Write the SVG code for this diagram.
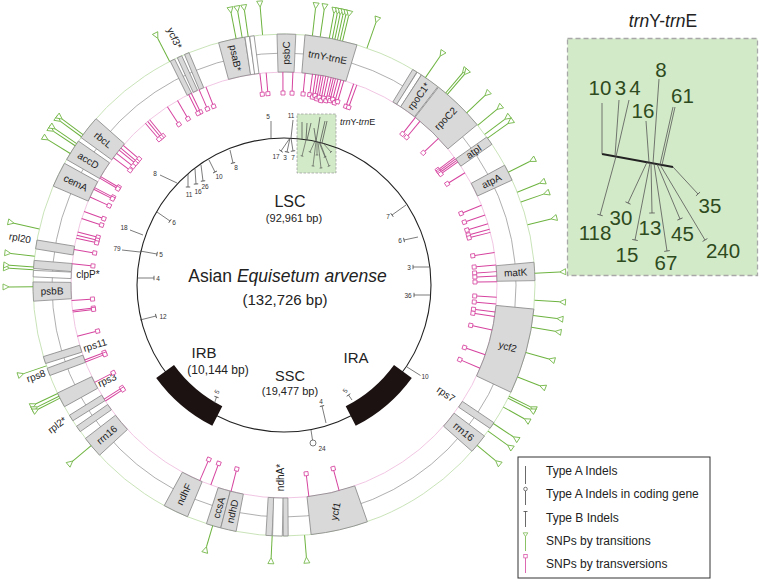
<svg xmlns="http://www.w3.org/2000/svg" width="760" height="582" viewBox="0 0 760 582">
<style>
text{font-family:"Liberation Sans",Arial,sans-serif;fill:#222}
.rg{fill:none;stroke:#c3e0b0;stroke-width:0.9}
.rm{fill:none;stroke:#9a9a9a;stroke-width:0.8}
.rp{fill:none;stroke:#efbfe0;stroke-width:0.9}
.gene{fill:#d9d9d9;stroke:#8c8c8c;stroke-width:0.8}
.gw{fill:#fff;stroke:#8c8c8c;stroke-width:0.8}
.pk{stroke:#d6439f;stroke-width:1;marker-end:url(#sq)}
.gr{stroke:#6db33f;stroke-width:1;marker-end:url(#tri)}
.ia{stroke:#444;stroke-width:0.7;fill:none}
.ib{stroke:#444;stroke-width:0.7;fill:none;marker-end:url(#tb)}
.is{stroke:#444;stroke-width:0.6;fill:none;marker-end:url(#tbs)}
.il2{stroke:#555;stroke-width:0.8;fill:none}
.ib2{stroke:#555;stroke-width:0.8;fill:none;marker-end:url(#tb2)}
.gl{font-size:10px}
.il{font-size:6.5px;fill:#333}
.big{font-size:20.5px;fill:#2e4a20}
.lg{font-size:12px}
.ctr{font-size:15px}
</style>
<defs>
<marker id="sq" markerUnits="userSpaceOnUse" markerWidth="8" markerHeight="8" refX="0" refY="0" orient="auto" overflow="visible"><rect x="0" y="-2" width="4" height="4" fill="#fff" stroke="#d6439f" stroke-width="0.8"/></marker>
<marker id="tri" markerUnits="userSpaceOnUse" markerWidth="8" markerHeight="8" refX="0" refY="0" orient="auto" overflow="visible"><path d="M0,0 L6,-3 L6,3 Z" fill="#fff" stroke="#6db33f" stroke-width="0.8"/></marker>
<marker id="tb" markerUnits="userSpaceOnUse" markerWidth="6" markerHeight="6" refX="0" refY="0" orient="auto" overflow="visible"><path d="M0,-2.2 L0,2.2" stroke="#444" stroke-width="0.8"/></marker>
<marker id="tbs" markerUnits="userSpaceOnUse" markerWidth="6" markerHeight="6" refX="0" refY="0" orient="auto" overflow="visible"><path d="M0,-1.4 L0,1.4" stroke="#444" stroke-width="0.6"/></marker>
<marker id="tb2" markerUnits="userSpaceOnUse" markerWidth="8" markerHeight="8" refX="0" refY="0" orient="auto" overflow="visible"><path d="M0,-2.8 L0,2.8" stroke="#555" stroke-width="0.8"/></marker>
</defs>
<rect width="760" height="582" fill="#fff"/>

<g id="rings">
<circle class="rg" cx="284" cy="285" r="251"/>
<circle class="rm" cx="284" cy="285" r="232"/>
<circle class="rp" cx="284" cy="285" r="213"/>
</g>

<g id="small-inset">
<rect x="297" y="114" width="39" height="59" fill="#d3eac8" stroke="#9a9a9a" stroke-width="0.7" stroke-dasharray="2.5,1.5"/>
<text x="340" y="125" font-size="9"><tspan font-style="italic">trn</tspan>Y-<tspan font-style="italic">trn</tspan>E</text>
</g>

<g id="genome">
<circle cx="284" cy="285" r="147" fill="none" stroke="#222" stroke-width="1.1"/>
<path d="M411.8,377.9 A158,158 0 0 1 355.7,425.8 L345.7,406.2 A136,136 0 0 0 394.0,364.9 Z" fill="#1c1212"/>
<path d="M212.3,425.8 A158,158 0 0 1 156.2,377.9 L174.0,364.9 A136,136 0 0 0 222.3,406.2 Z" fill="#1c1212"/>
<text x="290" y="207" font-size="16" text-anchor="middle">LSC</text>
<text x="294" y="222" font-size="11" text-anchor="middle">(92,961 bp)</text>
<text x="287.5" y="282" font-size="17.5" text-anchor="middle">Asian <tspan font-style="italic">Equisetum arvense</tspan></text>
<text x="285" y="305" class="ctr" text-anchor="middle">(132,726 bp)</text>
<text x="204" y="358" class="ctr" text-anchor="middle">IRB</text>
<text x="218" y="374" font-size="12" text-anchor="middle">(10,144 bp)</text>
<text x="356" y="363" class="ctr" text-anchor="middle">IRA</text>
<text x="290" y="381" font-size="14.5" text-anchor="middle">SSC</text>
<text x="290" y="395" font-size="11" text-anchor="middle">(19,477 bp)</text>
</g>

<g transform="translate(284,285)">
<g id="psbC"><path class="gene" transform="rotate(0.55)" d="M-9.42,-250.82 A251,251 0 0 1 9.42,-250.82 L7.99,-212.85 A213,213 0 0 0 -7.99,-212.85 Z"/><text class="gl" text-anchor="middle" dominant-baseline="central" transform="rotate(0.55) translate(0,-232) rotate(-90)">psbC</text></g>
<g id="trnY-trnE"><path class="gene" transform="rotate(10.85)" d="M-26.46,-249.6 A251,251 0 0 1 26.46,-249.6 L22.45,-211.81 A213,213 0 0 0 -22.45,-211.81 Z"/><text class="gl" text-anchor="middle" dominant-baseline="central" transform="rotate(10.85) translate(0,-232)">trnY-trnE</text></g>
<g id="psaB"><path class="gene" transform="rotate(-12.05)" d="M-13.36,-250.64 A251,251 0 0 1 13.36,-250.64 L11.33,-212.7 A213,213 0 0 0 -11.33,-212.7 Z"/><rect class="gw" x="-2.2" y="-251" width="4.45" height="38" transform="rotate(-8.45)"/><rect class="gw" x="-2.2" y="-251" width="4.45" height="38" transform="rotate(-7.35)"/><text class="gl" text-anchor="middle" dominant-baseline="central" transform="rotate(-12.05) translate(0,-232) rotate(90)">psaB*</text></g>
<g id="ycf3"><rect class="gene" x="-2.4" y="-251" width="4.86" height="38" transform="rotate(-26.4)"/><rect class="gene" x="-2.4" y="-251" width="4.86" height="38" transform="rotate(-24.6)"/><rect class="gene" x="-2.4" y="-251" width="4.86" height="38" transform="rotate(-22.8)"/></g>
<g id="rbcL"><path class="gene" transform="rotate(-51.25)" d="M-12.04,-250.71 A251,251 0 0 1 12.04,-250.71 L10.22,-212.76 A213,213 0 0 0 -10.22,-212.76 Z"/><text class="gl" text-anchor="middle" dominant-baseline="central" transform="rotate(-51.25) translate(0,-232) rotate(90)">rbcL</text></g>
<g id="accD"><path class="gene" transform="rotate(-57.5)" d="M-10.95,-250.76 A251,251 0 0 1 10.95,-250.76 L9.29,-212.8 A213,213 0 0 0 -9.29,-212.8 Z"/><text class="gl" text-anchor="middle" dominant-baseline="central" transform="rotate(-57.5) translate(0,-232) rotate(90)">accD</text></g>
<g id="cemA"><path class="gene" transform="rotate(-63.9)" d="M-12.7,-250.68 A251,251 0 0 1 12.7,-250.68 L10.78,-212.73 A213,213 0 0 0 -10.78,-212.73 Z"/><text class="gl" text-anchor="middle" dominant-baseline="central" transform="rotate(-63.9) translate(0,-232) rotate(90)">cemA</text></g>
<g id="rpl20"><rect class="gene" x="-4.45" y="-251" width="8.91" height="38" transform="rotate(-80.7)"/></g>
<g id="clpP"><rect class="gene" x="-4.05" y="-251" width="8.1" height="38" transform="rotate(-85.3)"/><rect class="gw" x="-3.24" y="-251" width="6.48" height="38" transform="rotate(-87.4)"/></g>
<g id="psbB"><path class="gene" transform="rotate(-91.5)" d="M-9.64,-250.81 A251,251 0 0 1 9.64,-250.81 L8.18,-212.84 A213,213 0 0 0 -8.18,-212.84 Z"/><text class="gl" text-anchor="middle" dominant-baseline="central" transform="rotate(-91.5) translate(0,-232) rotate(90)">psbB</text></g>
<g id="rps11"><rect class="gene" x="-3.65" y="-251" width="7.29" height="38" transform="rotate(-107.4)"/></g>
<g id="rps8"><rect class="gene" x="-3.85" y="-251" width="7.69" height="38" transform="rotate(-110.25)"/></g>
<g id="rps3"><path class="gene" transform="rotate(-117.25)" d="M-7.67,-250.88 A251,251 0 0 1 7.67,-250.88 L6.5,-212.9 A213,213 0 0 0 -6.5,-212.9 Z"/></g>
<g id="rpl2"><rect class="gene" x="-3.24" y="-251" width="6.48" height="38" transform="rotate(-122)"/><rect class="gene" x="-3.24" y="-251" width="6.48" height="38" transform="rotate(-125)"/></g>
<g id="rrn16-L"><path class="gene" transform="rotate(-130.2)" d="M-10.95,-250.76 A251,251 0 0 1 10.95,-250.76 L9.29,-212.8 A213,213 0 0 0 -9.29,-212.8 Z"/><text class="gl" text-anchor="middle" dominant-baseline="central" transform="rotate(-130.2) translate(0,-232) rotate(90)">rrn16</text></g>
<g id="ndhF"><path class="gene" transform="rotate(-154.45)" d="M-12.92,-250.67 A251,251 0 0 1 12.92,-250.67 L10.96,-212.72 A213,213 0 0 0 -10.96,-212.72 Z"/><text class="gl" text-anchor="middle" dominant-baseline="central" transform="rotate(-154.45) translate(0,-232) rotate(90)">ndhF</text></g>
<g id="ccsA"><path class="gene" transform="rotate(-163.7)" d="M-7.45,-250.89 A251,251 0 0 1 7.45,-250.89 L6.32,-212.91 A213,213 0 0 0 -6.32,-212.91 Z"/><text class="gl" text-anchor="middle" dominant-baseline="central" transform="rotate(-163.7) translate(0,-232) rotate(90)">ccsA</text></g>
<g id="ndhD"><path class="gene" transform="rotate(-167.2)" d="M-7.88,-250.88 A251,251 0 0 1 7.88,-250.88 L6.69,-212.9 A213,213 0 0 0 -6.69,-212.9 Z"/><text class="gl" text-anchor="middle" dominant-baseline="central" transform="rotate(-167.2) translate(0,-232) rotate(90)">ndhD</text></g>
<g id="ndhA"><rect class="gene" x="-3.04" y="-251" width="6.07" height="38" transform="rotate(-176.55)"/><rect class="gw" x="-4.86" y="-251" width="9.72" height="38" transform="rotate(-178.5)"/><rect class="gene" x="-2.43" y="-251" width="4.86" height="38" transform="rotate(179.6)"/></g>
<g id="ycf1"><path class="gene" transform="rotate(167.2)" d="M-28.85,-249.34 A251,251 0 0 1 28.85,-249.34 L24.48,-211.59 A213,213 0 0 0 -24.48,-211.59 Z"/><text class="gl" text-anchor="middle" dominant-baseline="central" transform="rotate(167.2) translate(0,-232) rotate(-245.2)">ycf1</text></g>
<g id="rrn16-R"><path class="gene" transform="rotate(129.25)" d="M-9.85,-250.81 A251,251 0 0 1 9.85,-250.81 L8.36,-212.84 A213,213 0 0 0 -8.36,-212.84 Z"/><text class="gl" text-anchor="middle" dominant-baseline="central" transform="rotate(129.25) translate(0,-232) rotate(-90)">rrn16</text></g>
<g id="rps7"><rect class="gene" x="-3.44" y="-251" width="6.88" height="38" transform="rotate(124.05)"/></g>
<g id="ycf2"><path class="gene" transform="rotate(105.4)" d="M-43.15,-247.26 A251,251 0 0 1 43.15,-247.26 L36.62,-209.83 A213,213 0 0 0 -36.62,-209.83 Z"/><text class="gl" text-anchor="middle" dominant-baseline="central" transform="rotate(105.4) translate(0,-232) rotate(-90)">ycf2</text></g>
<g id="matK"><path class="gene" transform="rotate(86.9)" d="M-9.2,-250.83 A251,251 0 0 1 9.2,-250.83 L7.8,-212.86 A213,213 0 0 0 -7.8,-212.86 Z"/><text class="gl" text-anchor="middle" dominant-baseline="central" transform="rotate(86.9) translate(0,-232) rotate(-90)">matK</text></g>
<g id="atpA"><path class="gene" transform="rotate(63.4)" d="M-8.32,-250.86 A251,251 0 0 1 8.32,-250.86 L7.06,-212.88 A213,213 0 0 0 -7.06,-212.88 Z"/><text class="gl" text-anchor="middle" dominant-baseline="central" transform="rotate(63.4) translate(0,-232) rotate(-90)">atpA</text></g>
<g id="atpI"><rect class="gene" x="-4.45" y="-251" width="8.91" height="38" transform="rotate(54.9)"/><text class="gl" text-anchor="middle" dominant-baseline="central" transform="rotate(54.9) translate(0,-232) rotate(-90)">atpI</text></g>
<g id="rpoC2"><path class="gene" transform="rotate(44.15)" d="M-26.89,-249.55 A251,251 0 0 1 26.89,-249.55 L22.82,-211.77 A213,213 0 0 0 -22.82,-211.77 Z"/><text class="gl" text-anchor="middle" dominant-baseline="central" transform="rotate(44.15) translate(0,-232) rotate(-90)">rpoC2</text></g>
<g id="rpoC1"><rect class="gene" x="-2.43" y="-251" width="4.86" height="38" transform="rotate(31.4)"/><rect class="gw" x="-2.43" y="-251" width="4.86" height="38" transform="rotate(32.6)"/><path class="gene" transform="rotate(35.5)" d="M-10.07,-250.8 A251,251 0 0 1 10.07,-250.8 L8.55,-212.83 A213,213 0 0 0 -8.55,-212.83 Z"/><text class="gl" text-anchor="middle" dominant-baseline="central" transform="rotate(35.5) translate(0,-232) rotate(-90)">rpoC1*</text></g>
</g>

<g id="gene-labels">
<text class="gl" text-anchor="middle" dominant-baseline="central" transform="translate(174.5,38) rotate(65)">ycf3*</text>
<text class="gl" text-anchor="middle" dominant-baseline="central" transform="translate(20,238) rotate(10)">rpl20</text>
<text class="gl" text-anchor="middle" dominant-baseline="central" transform="translate(88,274)">clpP*</text>
<text class="gl" text-anchor="middle" dominant-baseline="central" transform="translate(95,345) rotate(-17)">rps11</text>
<text class="gl" text-anchor="middle" dominant-baseline="central" transform="translate(36,376) rotate(-20)">rps8</text>
<text class="gl" text-anchor="middle" dominant-baseline="central" transform="translate(107,380) rotate(-25)">rps3</text>
<text class="gl" text-anchor="middle" dominant-baseline="central" transform="translate(57,425) rotate(-37)">rpl2*</text>
<text class="gl" text-anchor="middle" dominant-baseline="central" transform="translate(280,477.5) rotate(-90)">ndhA*</text>
<text class="gl" text-anchor="middle" dominant-baseline="central" transform="translate(446,394) rotate(35)">rps7</text>
</g>

<g id="connectors" transform="translate(284,285)">
<g id="transversions">
<line class="pk" y1="-213" y2="-194" transform="rotate(-6.5)"/>
<line class="pk" y1="-213" y2="-194" transform="rotate(-4.8)"/>
<line class="pk" y1="-213" y2="-194" transform="rotate(-0.3)"/>
<line class="pk" y1="-213" y2="-194" transform="rotate(2.4)"/>
<line class="pk" y1="-213" y2="-194" transform="rotate(5.7)"/>
<line class="pk" y1="-213" y2="-194" transform="rotate(7.7)"/>
<line class="pk" y1="-213" y2="-192" transform="rotate(8.6)"/>
<line class="pk" y1="-213" y2="-194" transform="rotate(9.3)"/>
<line class="pk" y1="-213" y2="-191" transform="rotate(10.0)"/>
<line class="pk" y1="-213" y2="-193" transform="rotate(10.6)"/>
<line class="pk" y1="-213" y2="-190" transform="rotate(11.3)"/>
<line class="pk" y1="-213" y2="-193" transform="rotate(12.0)"/>
<line class="pk" y1="-213" y2="-191" transform="rotate(12.8)"/>
<line class="pk" y1="-213" y2="-194" transform="rotate(13.4)"/>
<line class="pk" y1="-213" y2="-192" transform="rotate(14.0)"/>
<line class="pk" y1="-213" y2="-194" transform="rotate(14.7)"/>
<line class="pk" y1="-213" y2="-191" transform="rotate(15.5)"/>
<line class="pk" y1="-213" y2="-193" transform="rotate(16.3)"/>
<line class="pk" y1="-213" y2="-191" transform="rotate(19.1)"/>
<line class="pk" y1="-213" y2="-191" transform="rotate(20.0)"/>
<line class="pk" y1="-213" y2="-194" transform="rotate(-21.5)"/>
<line class="pk" y1="-213" y2="-194" transform="rotate(-23.5)"/>
<line class="pk" y1="-213" y2="-194" transform="rotate(-25.8)"/>
<line class="pk" y1="-213" y2="-194" transform="rotate(-26.6)"/>
<line class="pk" y1="-213" y2="-194" transform="rotate(-30)"/>
<line class="pk" y1="-213" y2="-194" transform="rotate(-33.2)"/>
<line class="pk" y1="-213" y2="-194" transform="rotate(-39.1)"/>
<line class="pk" y1="-213" y2="-194" transform="rotate(-39.8)"/>
<line class="pk" y1="-213" y2="-194" transform="rotate(-40.6)"/>
<line class="pk" y1="-213" y2="-194" transform="rotate(-49)"/>
<line class="pk" y1="-213" y2="-194" transform="rotate(-50)"/>
<line class="pk" y1="-213" y2="-194" transform="rotate(-50.7)"/>
<line class="pk" y1="-213" y2="-194" transform="rotate(-51.8)"/>
<line class="pk" y1="-213" y2="-194" transform="rotate(-53.3)"/>
<line class="pk" y1="-213" y2="-194" transform="rotate(-59.4)"/>
<line class="pk" y1="-213" y2="-194" transform="rotate(-59.9)"/>
<line class="pk" y1="-213" y2="-194" transform="rotate(-62.8)"/>
<line class="pk" y1="-213" y2="-194" transform="rotate(-63.3)"/>
<line class="pk" y1="-213" y2="-194" transform="rotate(-65.6)"/>
<line class="pk" y1="-213" y2="-194" transform="rotate(-69.8)"/>
<line class="pk" y1="-213" y2="-194" transform="rotate(-71.8)"/>
<line class="pk" y1="-213" y2="-194" transform="rotate(-75.6)"/>
<line class="pk" y1="-213" y2="-194" transform="rotate(-76.5)"/>
<line class="pk" y1="-213" y2="-194" transform="rotate(-77.3)"/>
<line class="pk" y1="-213" y2="-194" transform="rotate(-80.4)"/>
<line class="pk" y1="-213" y2="-194" transform="rotate(-84.3)"/>
<line class="pk" y1="-213" y2="-194" transform="rotate(-94.2)"/>
<line class="pk" y1="-213" y2="-194" transform="rotate(-96.9)"/>
<line class="pk" y1="-213" y2="-194" transform="rotate(-97.3)"/>
<line class="pk" y1="-213" y2="-194" transform="rotate(-103.9)"/>
<line class="pk" y1="-213" y2="-194" transform="rotate(-110.6)"/>
<line class="pk" y1="-213" y2="-194" transform="rotate(-111.2)"/>
<line class="pk" y1="-213" y2="-194" transform="rotate(-117.2)"/>
<line class="pk" y1="-213" y2="-194" transform="rotate(-122.4)"/>
<line class="pk" y1="-213" y2="-194" transform="rotate(-123)"/>
<line class="pk" y1="-213" y2="-192" transform="rotate(-156.7)"/>
<line class="pk" y1="-213" y2="-192" transform="rotate(-159.9)"/>
<line class="pk" y1="-213" y2="-192" transform="rotate(-165.6)"/>
<line class="pk" y1="-213" y2="-192" transform="rotate(173.3)"/>
<line class="pk" y1="-213" y2="-192" transform="rotate(165)"/>
<line class="pk" y1="-213" y2="-194" transform="rotate(38.1)"/>
<line class="pk" y1="-213" y2="-194" transform="rotate(39.7)"/>
<line class="pk" y1="-213" y2="-194" transform="rotate(46.5)"/>
<line class="pk" y1="-213" y2="-194" transform="rotate(53.2)"/>
<line class="pk" y1="-213" y2="-194" transform="rotate(53.7)"/>
<line class="pk" y1="-213" y2="-194" transform="rotate(54.2)"/>
<line class="pk" y1="-213" y2="-194" transform="rotate(54.7)"/>
<line class="pk" y1="-213" y2="-194" transform="rotate(58.2)"/>
<line class="pk" y1="-213" y2="-193" transform="rotate(68)"/>
<line class="pk" y1="-213" y2="-193" transform="rotate(70.8)"/>
<line class="pk" y1="-213" y2="-193" transform="rotate(73.3)"/>
<line class="pk" y1="-213" y2="-193" transform="rotate(74.8)"/>
<line class="pk" y1="-213" y2="-193" transform="rotate(75.7)"/>
<line class="pk" y1="-213" y2="-193" transform="rotate(81.2)"/>
<line class="pk" y1="-213" y2="-193" transform="rotate(84.6)"/>
<line class="pk" y1="-213" y2="-193" transform="rotate(86.4)"/>
<line class="pk" y1="-213" y2="-193" transform="rotate(87.6)"/>
<line class="pk" y1="-213" y2="-193" transform="rotate(89.1)"/>
<line class="pk" y1="-213" y2="-193" transform="rotate(93.3)"/>
<line class="pk" y1="-213" y2="-193" transform="rotate(95.1)"/>
<line class="pk" y1="-213" y2="-193" transform="rotate(97.3)"/>
<line class="pk" y1="-213" y2="-193" transform="rotate(98.5)"/>
<line class="pk" y1="-213" y2="-193" transform="rotate(102.2)"/>
<line class="pk" y1="-213" y2="-193" transform="rotate(109.1)"/>
<line class="pk" y1="-213" y2="-193" transform="rotate(113)"/>
</g>
<g id="transitions">
<line class="gr" y1="-251" y2="-277" transform="rotate(-27.1)"/>
<line class="gr" y1="-251" y2="-277" transform="rotate(-11.0)"/>
<line class="gr" y1="-251" y2="-277" transform="rotate(-9.6)"/>
<line class="gr" y1="-251" y2="-277" transform="rotate(-8.2)"/>
<line class="gr" y1="-251" y2="-279" transform="rotate(-4.9)"/>
<line class="gr" y1="-251" y2="-278" transform="rotate(6.5)"/>
<line class="gr" y1="-251" y2="-278" transform="rotate(8.3)"/>
<line class="gr" y1="-251" y2="-276" transform="rotate(10.4)"/>
<line class="gr" y1="-251" y2="-276" transform="rotate(11.1)"/>
<line class="gr" y1="-251" y2="-276" transform="rotate(11.7)"/>
<line class="gr" y1="-251" y2="-276" transform="rotate(12.3)"/>
<line class="gr" y1="-251" y2="-276" transform="rotate(12.9)"/>
<line class="gr" y1="-251" y2="-276" transform="rotate(13.5)"/>
<line class="gr" y1="-251" y2="-278" transform="rotate(19.3)"/>
<line class="gr" y1="-251" y2="-277" transform="rotate(34.3)"/>
<line class="gr" y1="-251" y2="-277" transform="rotate(40.1)"/>
<line class="gr" y1="-251" y2="-277" transform="rotate(40.6)"/>
<line class="gr" y1="-251" y2="-276" transform="rotate(46.7)"/>
<line class="gr" y1="-251" y2="-276" transform="rotate(50.5)"/>
<line class="gr" y1="-251" y2="-276" transform="rotate(53.1)"/>
<line class="gr" y1="-251" y2="-276" transform="rotate(54.2)"/>
<line class="gr" y1="-251" y2="-275" transform="rotate(63.3)"/>
<line class="gr" y1="-251" y2="-275" transform="rotate(68.3)"/>
<line class="gr" y1="-251" y2="-275" transform="rotate(70.7)"/>
<line class="gr" y1="-251" y2="-275" transform="rotate(76.1)"/>
<line class="gr" y1="-251" y2="-276" transform="rotate(87.3)"/>
<line class="gr" y1="-251" y2="-276" transform="rotate(93.5)"/>
<line class="gr" y1="-251" y2="-275" transform="rotate(97)"/>
<line class="gr" y1="-251" y2="-275" transform="rotate(99.7)"/>
<line class="gr" y1="-251" y2="-275" transform="rotate(105.6)"/>
<line class="gr" y1="-251" y2="-275" transform="rotate(111.5)"/>
<line class="gr" y1="-251" y2="-275" transform="rotate(116.3)"/>
<line class="gr" y1="-251" y2="-275" transform="rotate(116.8)"/>
<line class="gr" y1="-251" y2="-275" transform="rotate(119.1)"/>
<line class="gr" y1="-251" y2="-275" transform="rotate(123.5)"/>
<line class="gr" y1="-251" y2="-275" transform="rotate(125.6)"/>
<line class="gr" y1="-251" y2="-275" transform="rotate(129.7)"/>
<line class="gr" y1="-251" y2="-273" transform="rotate(175.3)"/>
<line class="gr" y1="-251" y2="-273" transform="rotate(182.7)"/>
<line class="gr" y1="-251" y2="-273" transform="rotate(196.5)"/>
<line class="gr" y1="-251" y2="-275" transform="rotate(-129.8)"/>
<line class="gr" y1="-251" y2="-275" transform="rotate(-115.6)"/>
<line class="gr" y1="-251" y2="-275" transform="rotate(-116.3)"/>
<line class="gr" y1="-251" y2="-275" transform="rotate(-116.8)"/>
<line class="gr" y1="-251" y2="-275" transform="rotate(-108.8)"/>
<line class="gr" y1="-251" y2="-275" transform="rotate(-90.4)"/>
<line class="gr" y1="-251" y2="-275" transform="rotate(-86.5)"/>
<line class="gr" y1="-251" y2="-275" transform="rotate(-85.9)"/>
<line class="gr" y1="-251" y2="-275" transform="rotate(-83.4)"/>
<line class="gr" y1="-251" y2="-277" transform="rotate(-77.1)"/>
<line class="gr" y1="-251" y2="-277" transform="rotate(-58.4)"/>
<line class="gr" y1="-251" y2="-277" transform="rotate(-56.3)"/>
<line class="gr" y1="-251" y2="-277" transform="rotate(-55.7)"/>
<line class="gr" y1="-251" y2="-277" transform="rotate(-53.8)"/>
<line class="gr" y1="-251" y2="-277" transform="rotate(-53.2)"/>
</g>
</g>

<g id="indels">
<line class="ia" x1="271" y1="138" x2="271" y2="121"/><text class="il" x="268" y="119" text-anchor="middle">5</text>
<line class="ia" x1="291" y1="138" x2="293" y2="120"/><text class="il" x="291" y="118" text-anchor="middle">11</text>
<line class="ib" x1="290" y1="138" x2="281" y2="151"/><text class="il" x="276" y="159" text-anchor="middle">17</text>
<line class="ib" x1="290" y1="138" x2="287" y2="152"/><text class="il" x="285" y="159.5" text-anchor="middle">3</text>
<line class="ib" x1="291" y1="138" x2="293" y2="151"/><text class="il" x="293" y="159.5" text-anchor="middle">7</text>
<line class="ia" x1="177" y1="183" x2="160" y2="175"/><text class="il" x="155" y="176" text-anchor="middle">8</text>
<line class="ib" x1="188" y1="174" x2="188" y2="187"/><text class="il" x="189" y="197" text-anchor="middle">11</text>
<line class="ib" x1="195" y1="169" x2="196" y2="184"/><text class="il" x="198" y="194" text-anchor="middle">16</text>
<line class="ib" x1="201" y1="165" x2="203" y2="181"/><text class="il" x="205" y="189" text-anchor="middle">26</text>
<line class="ib" x1="209" y1="160" x2="215" y2="172"/><text class="il" x="219" y="179" text-anchor="middle">10</text>
<line class="ib" x1="230" y1="150" x2="233" y2="163"/><text class="il" x="236" y="170" text-anchor="middle">8</text>
<line class="ia" x1="143" y1="235" x2="130" y2="230"/><text class="il" x="124" y="230" text-anchor="middle">18</text>
<line class="ib" x1="157" y1="212" x2="170" y2="221"/><text class="il" x="174" y="225" text-anchor="middle">6</text>
<line class="ia" x1="140" y1="252" x2="122" y2="250"/><text class="il" x="117" y="251" text-anchor="middle">79</text>
<line class="ib" x1="140" y1="251" x2="157" y2="254"/><text class="il" x="161" y="256.5" text-anchor="middle">5</text>
<line class="ib" x1="137" y1="278" x2="154" y2="278"/><text class="il" x="158" y="280.5" text-anchor="middle">4</text>
<line class="ib" x1="140" y1="320" x2="156" y2="316"/><text class="il" x="163" y="318.5" text-anchor="middle">12</text>
<line class="ib" x1="406" y1="205" x2="392" y2="215"/><text class="il" x="388" y="219" text-anchor="middle">7</text>
<line class="ib" x1="418" y1="237" x2="404" y2="240"/><text class="il" x="400" y="243" text-anchor="middle">6</text>
<line class="ib" x1="429" y1="267" x2="413" y2="267"/><text class="il" x="409" y="269.5" text-anchor="middle">3</text>
<line class="ib" x1="430.5" y1="295" x2="414" y2="295"/><text class="il" x="408" y="297.5" text-anchor="middle">36</text>
<line class="ia" x1="407" y1="367" x2="420.5" y2="375.5"/><text class="il" x="425" y="379" text-anchor="middle">10</text>
<line class="ib" x1="352" y1="400" x2="348.5" y2="395"/><text class="il" text-anchor="middle" transform="translate(347,392) rotate(-55)">5</text>
<line class="ib" x1="326" y1="423" x2="322" y2="406"/><text class="il" x="321" y="404" text-anchor="middle">4</text>
<line class="ia" x1="311" y1="430" x2="312.5" y2="440"/><circle cx="313" cy="443" r="3" fill="#fff" stroke="#444" stroke-width="0.7"/><text class="il" x="322" y="451" text-anchor="middle">24</text>
<line class="ib" x1="214.5" y1="403" x2="216.5" y2="397"/><text class="il" text-anchor="middle" transform="translate(219,393) rotate(-60)">5</text>
<line class="ia" x1="302" y1="122" x2="302" y2="139"/>
<line class="ia" x1="307" y1="123" x2="306" y2="140"/>
<line class="ia" x1="311" y1="123" x2="307" y2="140"/>
<line class="ia" x1="320" y1="117" x2="316" y2="141.5"/>
<line class="ia" x1="314" y1="128" x2="316" y2="141.5"/>
<line class="ia" x1="327" y1="121" x2="322" y2="143"/>
<line class="ia" x1="325" y1="121" x2="320" y2="142.5"/>
<line class="is" x1="306" y1="140" x2="302" y2="156"/>
<line class="is" x1="315" y1="141" x2="310" y2="152"/>
<line class="is" x1="316" y1="141.5" x2="313" y2="166"/>
<line class="is" x1="317" y1="141.5" x2="317" y2="155"/>
<line class="is" x1="318" y1="141.8" x2="321" y2="168"/>
<line class="is" x1="319" y1="142" x2="325" y2="157"/>
<line class="is" x1="320" y1="142.5" x2="329" y2="166"/>
<line class="is" x1="323" y1="143" x2="331" y2="152"/>
</g>

<g id="inset">
<text x="663" y="27" font-size="17.5" text-anchor="middle"><tspan font-style="italic">trn</tspan>Y-<tspan font-style="italic">trn</tspan>E</text>
<rect x="567.5" y="38.5" width="190" height="237" fill="#d3eac8" stroke="#a8a8a8" stroke-width="1.3" stroke-dasharray="5,3"/>
<line x1="602" y1="154" x2="673" y2="167" stroke="#222" stroke-width="1.8"/>
<line class="il2" x1="602" y1="103" x2="602" y2="154"/>
<line class="il2" x1="619" y1="100" x2="615" y2="156"/>
<line class="il2" x1="629" y1="100" x2="616" y2="156.5"/>
<line class="il2" x1="659" y1="79" x2="653" y2="163.3"/>
<line class="il2" x1="646" y1="121" x2="649" y2="162.6"/>
<line class="il2" x1="675" y1="107" x2="662" y2="165"/>
<line class="il2" x1="673" y1="107" x2="660" y2="164.6"/>
<line class="ib2" x1="616" y1="156.5" x2="600" y2="215"/>
<line class="ib2" x1="647" y1="162.2" x2="628" y2="203"/>
<line class="ib2" x1="650" y1="162.8" x2="635" y2="240"/>
<line class="ib2" x1="651" y1="163" x2="652" y2="213"/>
<line class="ib2" x1="654" y1="163.5" x2="667" y2="251"/>
<line class="ib2" x1="657" y1="164" x2="680" y2="219"/>
<line class="ib2" x1="660" y1="164.6" x2="705" y2="240"/>
<line class="ib2" x1="673" y1="167" x2="698" y2="194"/>
<text class="big" x="600" y="95" text-anchor="middle">10</text>
<text class="big" x="620.5" y="95" text-anchor="middle">3</text>
<text class="big" x="635" y="95" text-anchor="middle">4</text>
<text class="big" x="661" y="77" text-anchor="middle">8</text>
<text class="big" x="643" y="118" text-anchor="middle">16</text>
<text class="big" x="682.5" y="103" text-anchor="middle">61</text>
<text class="big" x="710" y="213" text-anchor="middle">35</text>
<text class="big" x="621" y="225" text-anchor="middle">30</text>
<text class="big" x="595" y="240" text-anchor="middle">118</text>
<text class="big" x="650" y="235" text-anchor="middle">13</text>
<text class="big" x="682.5" y="241" text-anchor="middle">45</text>
<text class="big" x="723" y="258" text-anchor="middle">240</text>
<text class="big" x="627" y="262" text-anchor="middle">15</text>
<text class="big" x="666" y="270" text-anchor="middle">67</text>
</g>

<g id="legend">
<rect x="518" y="457" width="192" height="121" fill="#fff" stroke="#333" stroke-width="1"/>
<line x1="525.5" y1="466" x2="525.5" y2="484" stroke="#444" stroke-width="0.8"/>
<circle cx="525.5" cy="489" r="1.8" fill="#fff" stroke="#444" stroke-width="0.7"/>
<line x1="525.5" y1="491" x2="525.5" y2="505" stroke="#444" stroke-width="0.8"/>
<line x1="523.5" y1="511.5" x2="527.5" y2="511.5" stroke="#444" stroke-width="0.8"/>
<line x1="525.5" y1="511.5" x2="525.5" y2="527" stroke="#444" stroke-width="0.8"/>
<path d="M523.2,532.8 L527.8,532.8 L525.5,536.6 Z" fill="#fff" stroke="#6db33f" stroke-width="0.7"/>
<line x1="525.5" y1="536.6" x2="525.5" y2="551" stroke="#6db33f" stroke-width="0.8"/>
<rect x="523.8" y="554.5" width="3.4" height="3.4" fill="#fff" stroke="#d6439f" stroke-width="0.7"/>
<line x1="525.5" y1="558" x2="525.5" y2="573" stroke="#d6439f" stroke-width="0.8"/>
<text class="lg" x="546" y="475">Type A Indels</text>
<text class="lg" x="546" y="498">Type A Indels in coding gene</text>
<text class="lg" x="546" y="522">Type B Indels</text>
<text class="lg" x="546" y="545">SNPs by transitions</text>
<text class="lg" x="546" y="568">SNPs by transversions</text>
</g>
</svg>
